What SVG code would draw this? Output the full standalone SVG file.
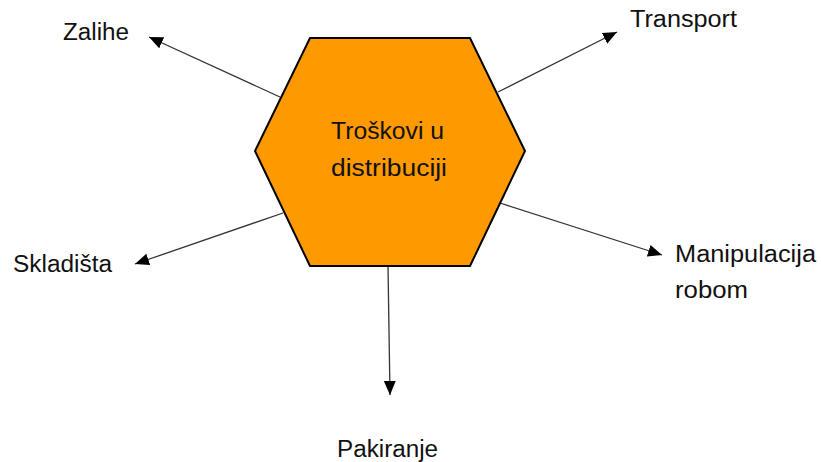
<svg xmlns="http://www.w3.org/2000/svg" width="821" height="462" viewBox="0 0 821 462">
<style>
.lbl{font-family:"Liberation Sans",Arial,sans-serif;font-size:23px;fill:#111}
.hex{fill:#FF9900;stroke:#000;stroke-width:2}
.conn{stroke:#333;stroke-width:1.3;fill:none;marker-end:url(#ah)}
</style>
<defs>
<marker id="ah" markerUnits="userSpaceOnUse" markerWidth="16" markerHeight="14" refX="14" refY="6" orient="auto">
<path d="M0,0 L14,6 L0,12 Z" fill="#000"/>
</marker>
</defs>
<rect width="821" height="462" fill="#fff"/>
<g id="connectors">
<line class="conn" x1="280" y1="97" x2="149" y2="37"/>
<line class="conn" x1="498" y1="92" x2="617" y2="32"/>
<line class="conn" x1="283" y1="213" x2="135" y2="264"/>
<line class="conn" x1="500" y1="203" x2="662" y2="255"/>
<line class="conn" x1="388" y1="266" x2="390" y2="395"/>
</g>
<g id="center">
<polygon class="hex" points="310,38 470,38 525,151 470,266 310,266 255,151"/>
<text class="lbl" x="331" y="139" textLength="113" lengthAdjust="spacingAndGlyphs">Troškovi u</text>
<text class="lbl" x="331" y="176" textLength="116" lengthAdjust="spacingAndGlyphs">distribuciji</text>
</g>
<g id="zalihe"><text class="lbl" x="63" y="40" textLength="66" lengthAdjust="spacingAndGlyphs">Zalihe</text></g>
<g id="transport"><text class="lbl" x="630" y="27" textLength="107" lengthAdjust="spacingAndGlyphs">Transport</text></g>
<g id="skladista"><text class="lbl" x="13" y="272" textLength="99" lengthAdjust="spacingAndGlyphs">Skladišta</text></g>
<g id="manipulacija">
<text class="lbl" x="675" y="262" textLength="141" lengthAdjust="spacingAndGlyphs">Manipulacija</text>
<text class="lbl" x="675" y="298" textLength="73" lengthAdjust="spacingAndGlyphs">robom</text>
</g>
<g id="pakiranje"><text class="lbl" x="337" y="457" textLength="101" lengthAdjust="spacingAndGlyphs">Pakiranje</text></g>
</svg>
